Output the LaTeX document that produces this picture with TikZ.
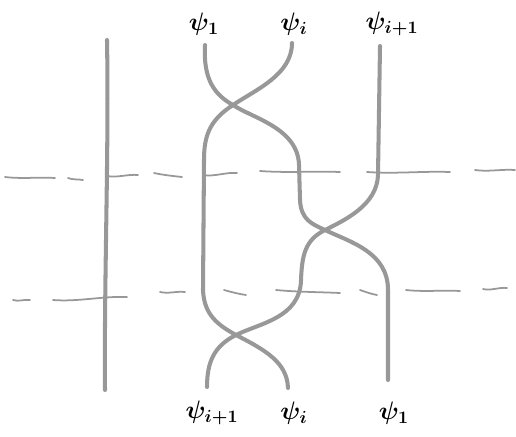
\documentclass[tikz,border=0pt]{standalone}
\definecolor{pencil}{RGB}{152,152,152}
\tikzset{
  strand/.style={draw=pencil,line width=2.3pt,line cap=round},
  cut/.style={draw=pencil,line width=1pt,line cap=round},
  lab/.style={font=\Large\boldmath}
}
\begin{document}
\begin{tikzpicture}[x=0.02cm,y=-0.02cm]
\useasboundingbox (0,0) rectangle (516,436);
\node[lab] (t1) at (204,24) {$\psi_1$};
\node[lab] (ti) at (294,24) {$\psi_i$};
\node[lab] (tj) at (392,24) {$\psi_{i+1}$};
\node[lab] (bj) at (212,413) {$\psi_{i+1}$};
\node[lab] (bi) at (294,413) {$\psi_i$};
\node[lab] (b1) at (394,413) {$\psi_1$};
\coordinate (s1) at (205,45);
\coordinate (si) at (292,43);
\coordinate (sj) at (380,46);
\coordinate (e1) at (388,380);
\coordinate (ei) at (288,388);
\coordinate (ej) at (207,387);
\coordinate (lt) at (107,40);
\coordinate (lb) at (105,390);
% the strands
\draw[strand] (lt) .. controls (109,150) and (104,280) .. (lb);
\draw[strand] (s1) .. controls (203,80) and (215,95) .. (233,105)
  .. controls (252,118) and (298,128) .. (299,165) -- (300,200)
  .. controls (301,220) and (312,224) .. (325,230)
  .. controls (350,242) and (388,252) .. (388,290) -- (e1);
\draw[strand] (si) .. controls (292,75) and (255,90) .. (233,105)
  .. controls (210,120) and (204,135) .. (204,160) -- (203,290)
  .. controls (204,315) and (218,325) .. (236,335)
  .. controls (265,350) and (287,362) .. (ei);
\draw[strand] (sj) -- (378,175) .. controls (377,205) and (345,220) .. (325,230)
  .. controls (305,240) and (302,255) .. (301,280)
  .. controls (300,318) and (260,323) .. (236,335)
  .. controls (214,346) and (207,362) .. (ej);
% the two cuts
\foreach \a/\b/\c/\d in {5/177/55/178, 68/178/83/180, 107/176/138/175,
  154/173/182/177, 203/175/237/173, 260/171/340/172, 367/172/450/172,
  475/170/515/170}
  \draw[cut] (\a,\b) .. controls ({\a+(\c-\a)/3},{\b+2}) and ({\a+2*(\c-\a)/3},{\d-1}) .. (\c,\d);
\foreach \a/\b/\c/\d in {13/300/30/300, 53/300/127/297, 160/292/185/292,
  224/290/246/295, 276/290/340/293, 360/290/377/295, 406/290/460/291,
  483/289/507/288}
  \draw[cut] (\a,\b) .. controls ({\a+(\c-\a)/3},{\b+2}) and ({\a+2*(\c-\a)/3},{\d-1}) .. (\c,\d);
\end{tikzpicture}
\end{document}
